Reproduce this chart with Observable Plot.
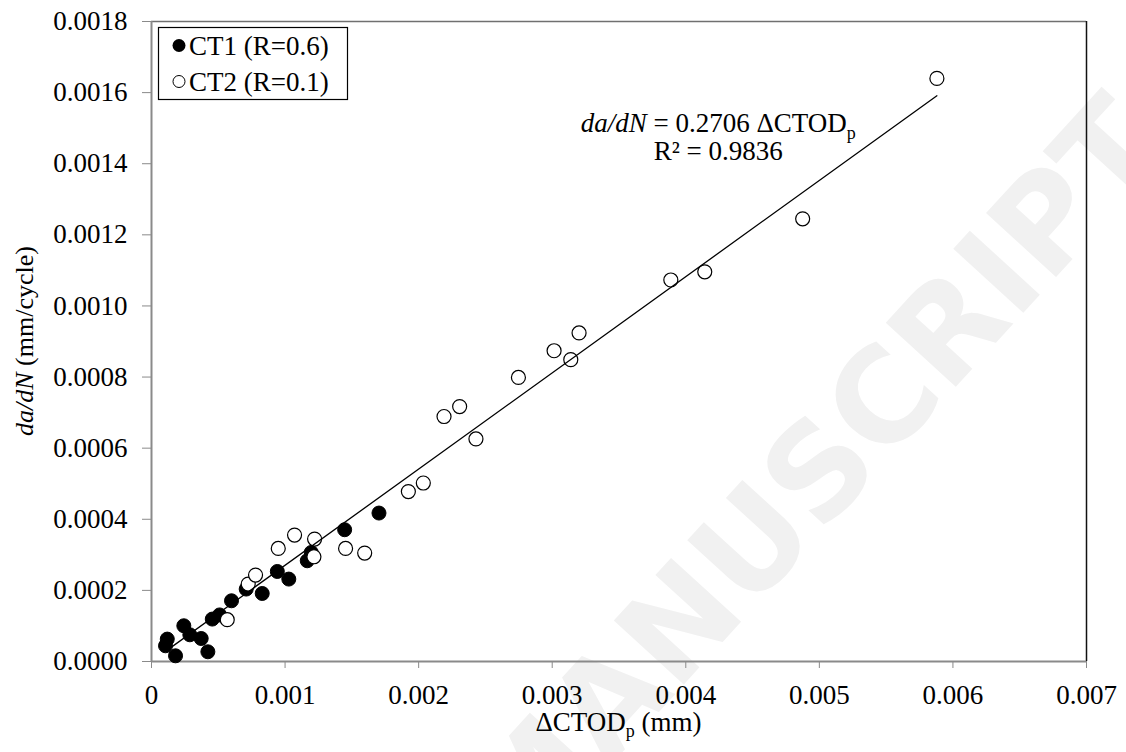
<!DOCTYPE html>
<html><head><meta charset="utf-8">
<script src="https://cdn.jsdelivr.net/npm/d3@7"></script>
<script src="https://cdn.jsdelivr.net/npm/@observablehq/plot@0.6"></script>
<style>
html,body{margin:0;padding:0;background:#fff;}
#wrap{position:relative;width:1126px;height:752px;overflow:hidden;}
#wm{position:absolute;left:0;top:0;}
#chart{position:absolute;left:0;top:0;}
#chart svg text, #chart svg tspan{font-family:"Liberation Serif", serif !important;}
</style></head><body>
<div id="wrap"><svg id="wm" width="1126" height="752"></svg><div id="chart"></div></div>
<script>
// ---- data ----
const ct1X = [0.000105,0.000118,0.000180,0.000242,0.000287,0.000372,0.000422,0.000455,0.000510,0.000599,0.000709,0.000829,0.000942,0.001028,0.001166,0.001196,0.001446,0.001703];
const ct1Y = [0.0000442,0.0000630,0.0000160,0.0001005,0.0000751,0.0000647,0.0000273,0.0001193,0.0001310,0.0001708,0.0002037,0.0001913,0.0002532,0.0002318,0.0002833,0.0003067,0.0003706,0.0004175];
const ct2X = [0.000567,0.000724,0.000779,0.000949,0.001071,0.001216,0.001221,0.001453,0.001596,0.001923,0.002035,0.002190,0.002307,0.002429,0.002747,0.003014,0.003139,0.003201,0.003888,0.004142,0.004875,0.005880];
const ct2Y = [0.0001176,0.0002178,0.0002431,0.0003180,0.0003556,0.0002946,0.0003444,0.0003180,0.0003050,0.0004780,0.0005020,0.0006890,0.0007170,0.0006260,0.0007990,0.0008740,0.0008490,0.0009240,0.0010730,0.0010960,0.0012450,0.0016400];
const fitSlope = 0.2706;
const fitR2 = "0.9836";
const xTicks = [0,0.001,0.002,0.003,0.004,0.005,0.006,0.007];
const yTicks = [0,0.0002,0.0004,0.0006,0.0008,0.0010,0.0012,0.0014,0.0016,0.0018];
const seriesNames = ["CT1 (R=0.6)","CT2 (R=0.1)"];

const ct1 = ct1X.map((x,i)=>({x, y: ct1Y[i]}));
const ct2 = ct2X.map((x,i)=>({x, y: ct2Y[i]}));
const allX = ct1X.concat(ct2X);
const xmin = d3.min(allX), xmax = d3.max(allX);
const fit = [{x:xmin, y:fitSlope*xmin},{x:xmax, y:fitSlope*xmax}];

const FONT = "Liberation Serif";

const plot = Plot.plot({
  width: 1126, height: 752,
  marginLeft: 151, marginRight: 40, marginTop: 21, marginBottom: 91,
  style: "background: transparent; font-family: 'Liberation Serif', serif; font-size: 27px; color: black;",
  x: {domain: [0, 0.007]},
  y: {domain: [0, 0.0018]},
  marks: [
    Plot.axisX(xTicks, {tickSize: 7, tickPadding: 16, tickFormat: v => v === 0 ? "0" : v.toFixed(3), stroke: "#8a8a8a", fill: "black", label: null, fontSize: 27}),
    Plot.axisY(yTicks, {tickSize: 9, tickPadding: 15, tickFormat: v => v.toFixed(4), stroke: "#8a8a8a", fill: "black", label: null, fontSize: 27}),
    Plot.ruleY([0.0018], {stroke: "#707070", strokeWidth: 1.5}),
    Plot.ruleX([0.007], {stroke: "#111", strokeWidth: 1.5}),
    Plot.ruleX([0], {stroke: "#8a8a8a", strokeWidth: 2}),
    Plot.ruleY([0], {stroke: "#8a8a8a", strokeWidth: 2}),
    Plot.dot(ct1, {x: "x", y: "y", r: 7, fill: "black", stroke: "black", strokeWidth: 1}),
    Plot.dot(ct2, {x: "x", y: "y", r: 7, fill: "white", stroke: "black", strokeWidth: 1.2}),
    Plot.line(fit, {x: "x", y: "y", stroke: "black", strokeWidth: 1.3})
  ]
});
document.getElementById("chart").appendChild(plot);

const sx = plot.scale("x"), sy = plot.scale("y");
const svg = d3.select(plot);

function txt(sel){ return sel.append("text").attr("font-family",FONT).style("font-family","'Liberation Serif', serif").attr("fill","black"); }

// x axis title
const xt = txt(svg).attr("x", (sx.apply(0)+sx.apply(0.007))/2).attr("y", 731)
  .attr("text-anchor","middle").attr("font-size",27);
xt.append("tspan").text("\u0394CTOD");
xt.append("tspan").attr("font-size",18).attr("dy",6).text("p");
xt.append("tspan").attr("dy",-6).text(" (mm)");

// y axis title
const yt = txt(svg).attr("transform", `translate(33,${(sy.apply(0)+sy.apply(0.0018))/2}) rotate(-90)`)
  .attr("text-anchor","middle").attr("font-size",26);
yt.append("tspan").attr("font-style","italic").text("da/dN");
yt.append("tspan").text(" (mm/cycle)");

// equation annotation
const ax = sx.apply(0.004247);
const a1 = txt(svg).attr("x", ax).attr("y", sy.apply(0.001488))
  .attr("text-anchor","middle").attr("font-size",27);
a1.append("tspan").attr("font-style","italic").text("da/dN");
a1.append("tspan").text(" = " + fitSlope.toFixed(4) + " \u0394CTOD");
a1.append("tspan").attr("font-size",18).attr("dy",7).text("p");
txt(svg).attr("x", ax).attr("y", sy.apply(0.001409))
  .attr("text-anchor","middle").attr("font-size",27)
  .text("R\u00B2 = " + fitR2);

// legend
const lg = svg.append("g");
lg.append("rect").attr("x",158.5).attr("y",27.5).attr("width",189).attr("height",72)
  .attr("fill","white").attr("stroke","black").attr("stroke-width",1.2);
lg.append("circle").attr("cx",179).attr("cy",45.5).attr("r",6.5).attr("fill","black");
lg.append("circle").attr("cx",179).attr("cy",81.5).attr("r",6).attr("fill","white").attr("stroke","black").attr("stroke-width",1);
txt(lg).attr("x",189).attr("y",55).attr("text-anchor","start").attr("font-size",27).text(seriesNames[0]);
txt(lg).attr("x",189).attr("y",90.5).attr("text-anchor","start").attr("font-size",27).text(seriesNames[1]);

// faint watermark behind the chart
d3.select("#wm").append("text")
  .attr("transform","translate(1172,150) rotate(-47.6)")
  .attr("text-anchor","end")
  .attr("font-family","DejaVu Sans").attr("font-weight","bold")
  .attr("font-size",130).attr("fill","#f1f1f1")
  .text("ACCEPTED MANUSCRIPT");
</script>
</body></html>
